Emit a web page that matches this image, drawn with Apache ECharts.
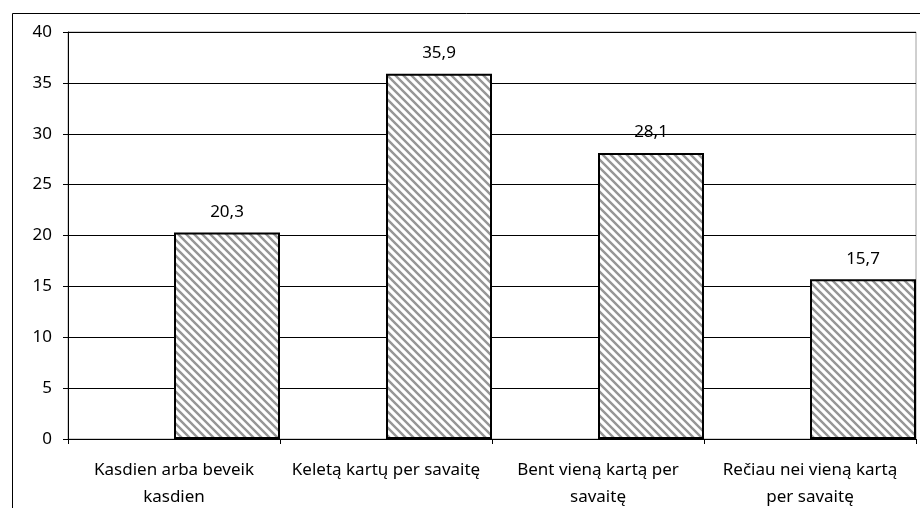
<!DOCTYPE html>
<html>
<head>
<meta charset="utf-8">
<script src="https://cdn.jsdelivr.net/npm/echarts@6/dist/echarts.min.js"></script>
<style>
  html, body { margin: 0; padding: 0; background: #fff; }
  #chart { width: 920px; height: 508px; }
</style>
</head>
<body>
<div id="chart"></div>
<script>
// kategorijos ir reikšmės (%)
const categories = ['Kasdien arba beveik\nkasdien', 'Keletą kartų per savaitę', 'Bent vieną kartą per\nsavaitę', 'Rečiau nei vieną kartą\nper savaitę'];
const values = [20.3, 35.9, 28.1, 15.7];
const emptyValues = ['-', '-', '-', '-'];   // tuščia serija, kad stulpeliai būtų dešinėje pusėje
const yTicks = [0, 5, 10, 15, 20, 25, 30, 35, 40];

// įstrižas brūkšniavimas
function hatch() {
    const c = document.createElement('canvas')
    c.width = 8
    c.height = 8
    const ctx = c.getContext('2d')
    ctx.fillStyle = '#fff'
    ctx.fillRect(0, 0, 8, 8)
    ctx.strokeStyle = '#969696'
    ctx.lineWidth = 2.4
    ctx.beginPath()
    ctx.moveTo(-4, -4); ctx.lineTo(12, 12)
    ctx.moveTo(-4, 4); ctx.lineTo(4, 12)
    ctx.moveTo(4, -4); ctx.lineTo(12, 4)
    ctx.stroke()
    return c
}

const font = 'Noto Sans'
const chart = echarts.init(document.getElementById('chart'))
chart.setOption({
    animation: false,
    graphic: [{
        type: 'rect',
        left: 10, top: 11,
        shape: { width: 1000, height: 700 },
        style: { fill: 'none', stroke: '#000', lineWidth: 1 },
        z: 100
    }],
    grid: {
        left: 68, top: 32, right: 4, bottom: 69,
        containLabel: false,
        outerBoundsMode: 'none',
        show: true,
        borderColor: '#a0a0a0',
        borderWidth: 1
    },
    xAxis: {
        type: 'category',
        data: categories,
        axisLine: { lineStyle: { color: '#000' } },
        axisTick: { show: true, length: 5, lineStyle: { color: '#000' } },
        axisLabel: {
            color: '#000', fontFamily: font, fontSize: 17,
            margin: 18, lineHeight: 27, interval: 0
        }
    },
    yAxis: {
        type: 'value',
        min: yTicks[0],
        max: yTicks[yTicks.length - 1],
        interval: 5,
        axisLine: { show: true, lineStyle: { color: '#000' } },
        axisTick: { show: true, length: 5, lineStyle: { color: '#000' } },
        axisLabel: { color: '#000', fontFamily: font, fontSize: 17, margin: 16 },
        splitLine: { lineStyle: { color: '#000', width: 1 } }
    },
    series: [{
        type: 'bar',
        data: emptyValues,
        barGap: '0%',
        barCategoryGap: '0%'
    }, {
        type: 'bar',
        data: values,
        barGap: '0%',
        barCategoryGap: '0%',
        itemStyle: {
            color: { image: hatch(), repeat: 'repeat' },
            borderColor: '#000',
            borderWidth: 2
        },
        label: {
            show: true,
            position: 'top',
            distance: 12,
            color: '#000',
            fontFamily: font,
            fontSize: 17,
            formatter: p => String(p.value).replace('.', ',')
        }
    }]
})
</script>
</body>
</html>
